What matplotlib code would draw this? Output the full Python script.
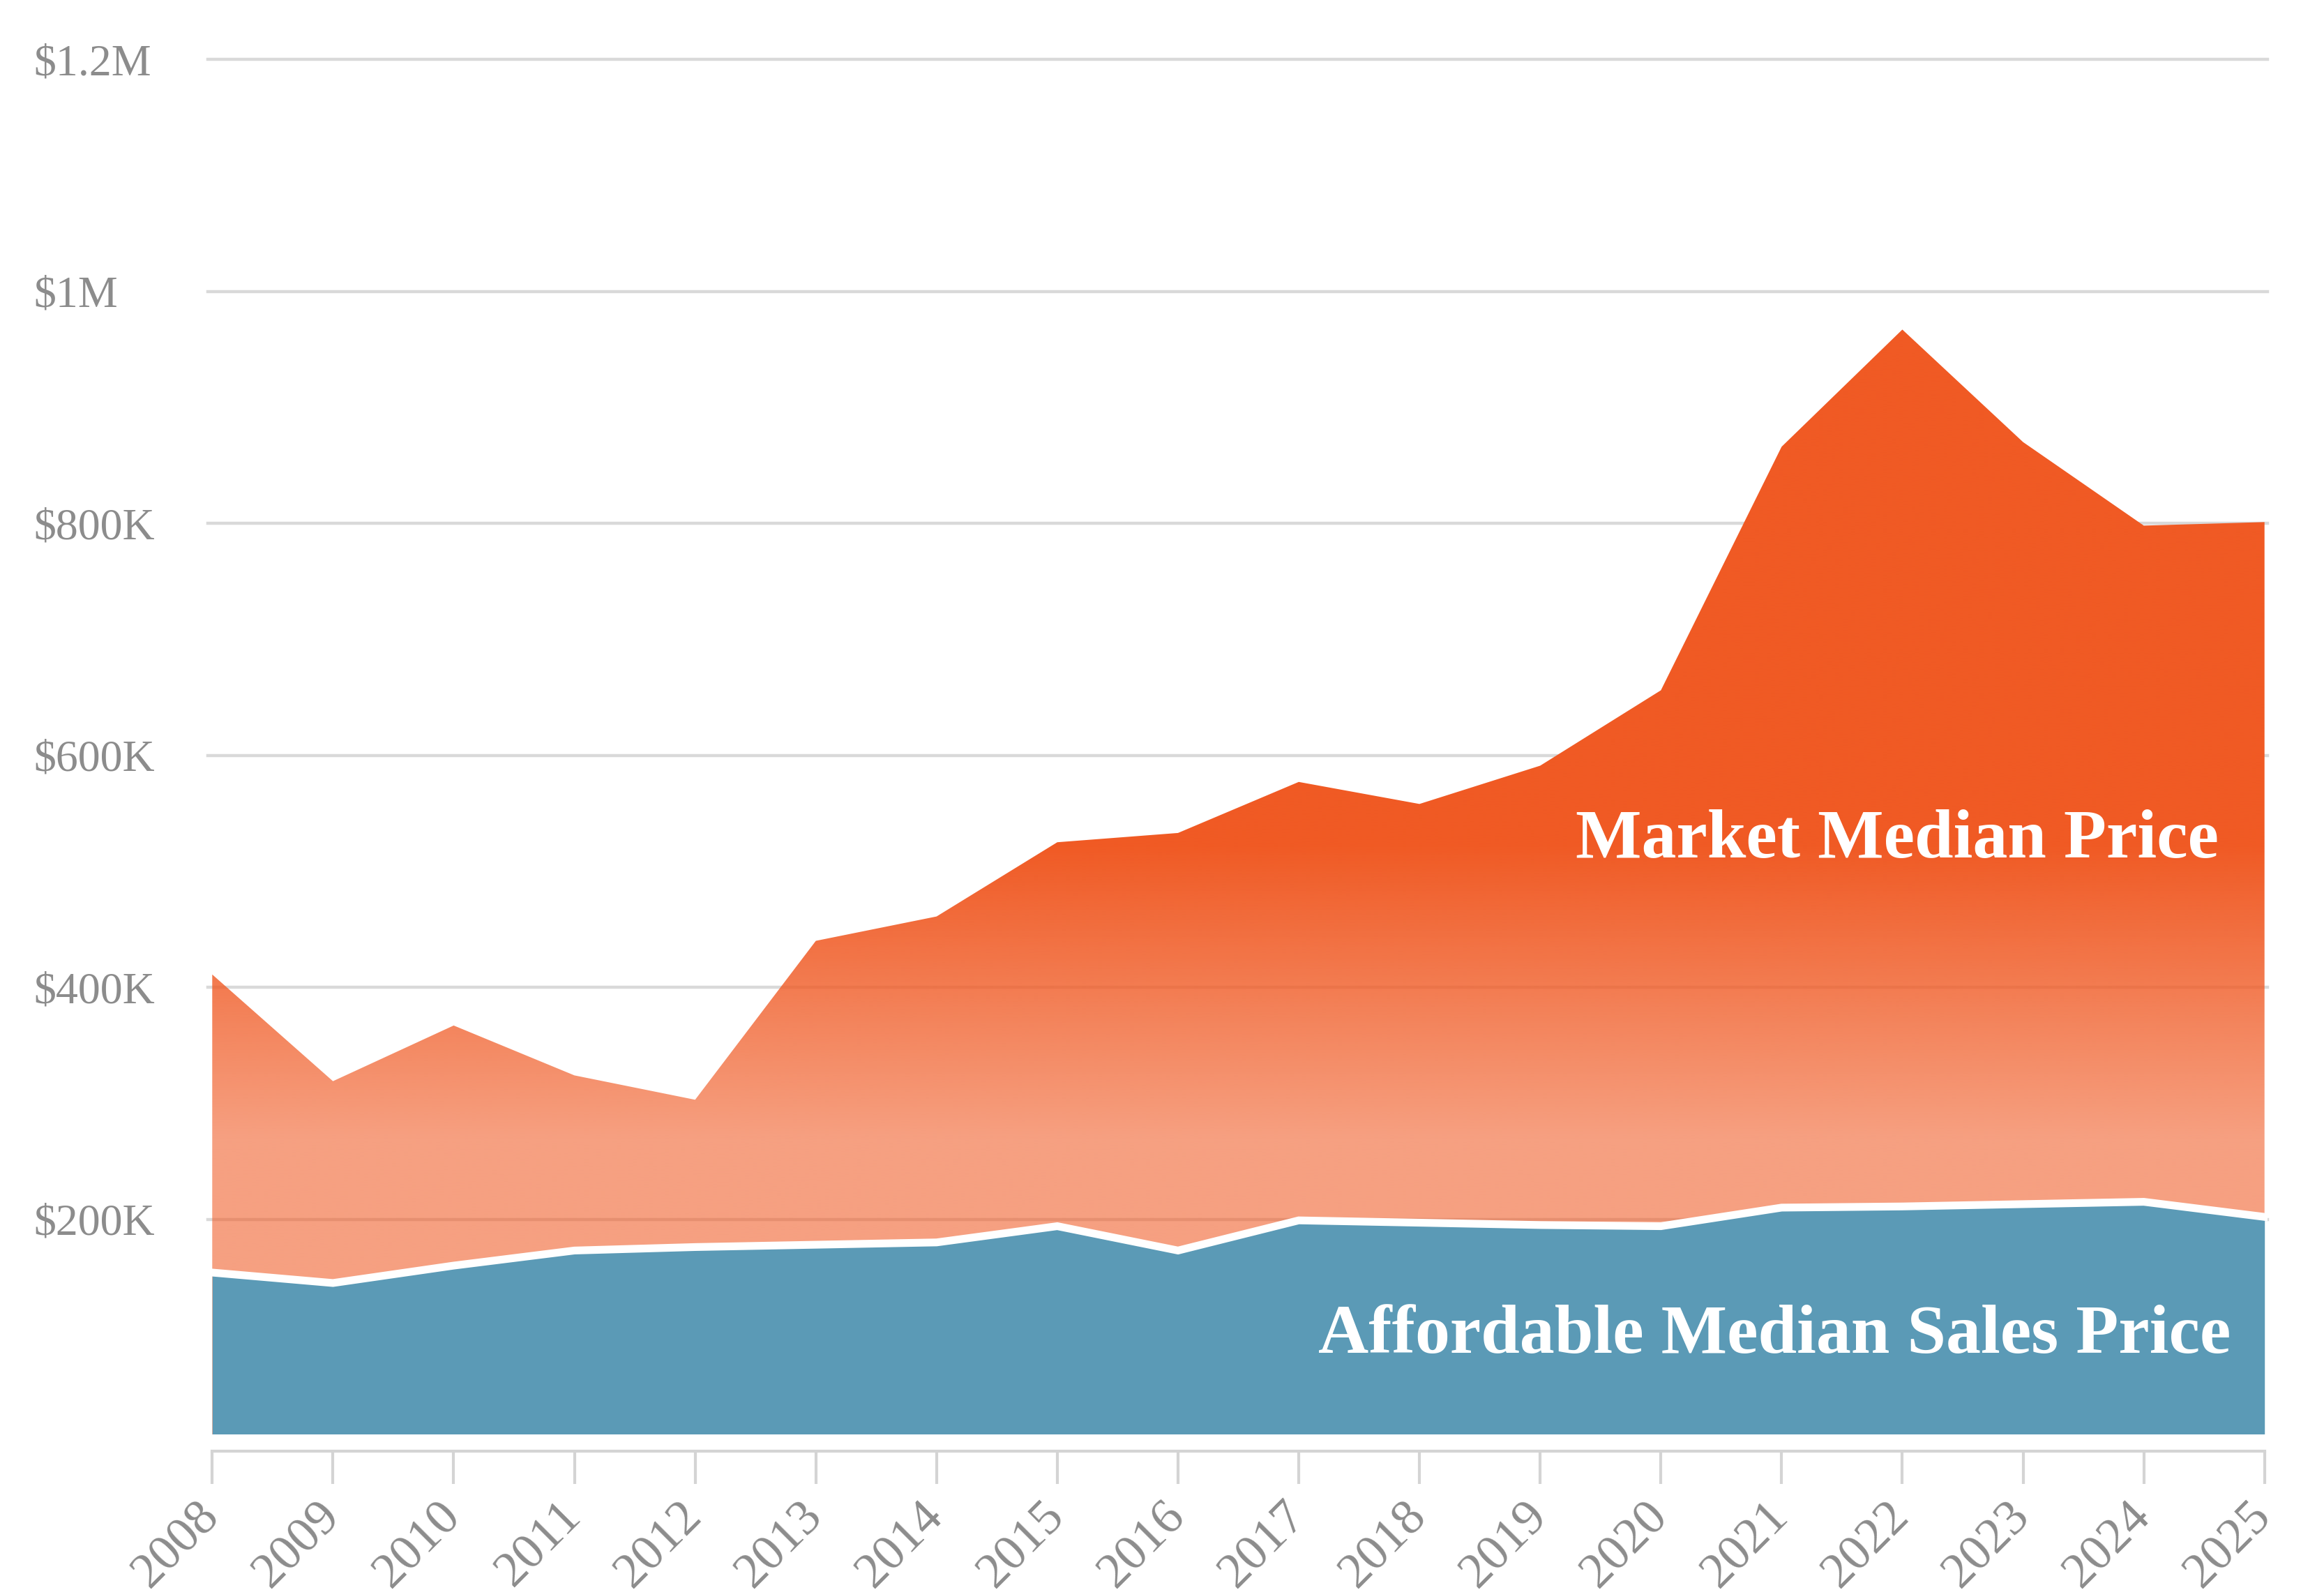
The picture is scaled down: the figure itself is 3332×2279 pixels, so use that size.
import matplotlib
matplotlib.use("Agg")
import matplotlib.pyplot as plt
import numpy as np
from matplotlib.colors import to_rgb

# data (USD)
years = [2008, 2009, 2010, 2011, 2012, 2013, 2014, 2015, 2016,
         2017, 2018, 2019, 2020, 2021, 2022, 2023, 2024, 2025]
market_price = [411000, 319000, 367000, 324000, 303000, 440000, 461000, 525000, 533000,
                577000, 558000, 591000, 656000, 866000, 967000, 870000, 798000, 801000]
affordable_price = [154000, 145000, 160000, 173000, 176000, 178000, 180000, 194000, 173000,
                    199000, 197000, 195000, 194000, 210000, 211000, 213000, 215000, 202000]
y_ticks = [200000, 400000, 600000, 800000, 1000000, 1200000]
y_labels = ["$200K", "$400K", "$600K", "$800K", "$1M", "$1.2M"]

orange = "#F05A24"
blue = "#5B9AB6"
grey_text = "#8c8c8c"
serif = ["Liberation Serif", "DejaVu Serif"]

fig = plt.figure(figsize=(16.66, 11.395), dpi=200)
ax = fig.add_axes([0.0894, 0.0873, 0.8863, 0.8754])
ax.set_xlim(2008 - 0.037, 2025 + 0.025)
ax.set_ylim(0, 1200000)

# gridlines
for yv in y_ticks:
    ax.axhline(yv, color="#d9d9d9", lw=1.6, zorder=1, clip_on=False)

# market area with vertical gradient (opaque on top, faded lower down)
poly = ax.fill_between(years, 0, market_price, facecolor="none", edgecolor="none")
clip = poly.get_paths()[0]
ny = 400
yy = np.linspace(0, 1200000, ny)
alpha = np.clip(0.58 + (yy - 270000) / (520000 - 270000) * 0.42, 0.58, 1.0)
grad = np.zeros((ny, 2, 4))
grad[:, :, :3] = to_rgb(orange)
grad[:, :, 3] = alpha[:, None]
im = ax.imshow(grad, extent=[2008, 2025, 0, 1200000], origin="lower",
               aspect="auto", zorder=2, interpolation="bilinear")
im.set_clip_path(clip, transform=ax.transData)

# affordable area
ax.fill_between(years, 0, affordable_price, color=blue, lw=0, zorder=3)
ax.plot(years, affordable_price, color="white", lw=4, zorder=4, solid_joinstyle="miter")

# white gap between areas and axis line
ax.axhspan(0, 14500, color="white", lw=0, zorder=5)

# labels inside areas
ax.text(2024.62, 512000, "Market Median Price", color="white", fontsize=36,
        fontweight="bold", family=serif, ha="right", va="baseline", zorder=6)
ax.text(2024.72, 85000, "Affordable Median Sales Price", color="white", fontsize=36,
        fontweight="bold", family=serif, ha="right", va="baseline", zorder=6)

# axes styling
for s in ["top", "right", "left"]:
    ax.spines[s].set_visible(False)
ax.spines["bottom"].set_color("#d4d4d4")
ax.spines["bottom"].set_linewidth(1.5)
ax.spines["bottom"].set_bounds(2008, 2025)
ax.spines["bottom"].set_zorder(6)

ax.set_xticks(years)
ax.set_xticklabels([str(y) for y in years], rotation=45, ha="right", va="center",
                   rotation_mode="anchor", fontsize=26, family=serif, color=grey_text)
ax.tick_params(axis="x", length=17, width=1.5, color="#d4d4d4", pad=13)

ax.set_yticks(y_ticks)
ax.set_yticklabels(y_labels, fontsize=23, family=serif, color=grey_text)
for lab in ax.get_yticklabels():
    lab.set_horizontalalignment("left")
ax.tick_params(axis="y", length=0, pad=90)

fig.savefig("out.png", dpi=200, facecolor="white")
